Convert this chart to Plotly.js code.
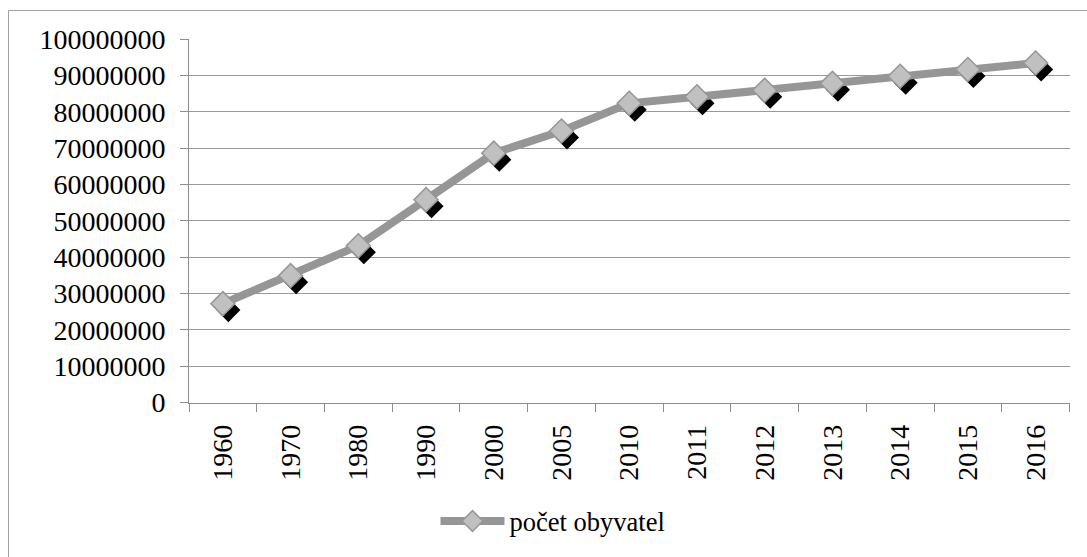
<!DOCTYPE html>
<html>
<head>
<meta charset="utf-8">
<script src="https://cdn.plot.ly/plotly-3.0.1.min.js"></script>
<style>
html,body{margin:0;padding:0;background:#fff;}
#chart{width:1087px;height:557px;}
</style>
</head>
<body>
<div id="chart"></div>
<script>
// Data
var years = ['1960','1970','1980','1990','2000','2005','2010','2011','2012','2013','2014','2015','2016'];
var population = [27200000, 34900000, 43100000, 55800000, 68600000, 74700000, 82300000, 84100000, 85900000, 87800000, 89750000, 91600000, 93400000];
var seriesName = 'počet obyvatel';
var yTicks = [0,10000000,20000000,30000000,40000000,50000000,60000000,70000000,80000000,90000000,100000000];

// Geometry (pixels)
var W = 1087, H = 557;
var L = 189, R = 10, T = 39, B = 147.5;
var pw = W - L - R, ph = H - T - B;
function px(x){ return (x - L) / pw; }
function py(y){ return (H - B - y) / ph; }
var plotRight = 1069.5, plotBottom = 403, plotTop = 39;
var sdx = 5.5, sdy = 6.5; // shadow offset

var font = '"Liberation Serif", "Times New Roman", serif';
var xr = [-0.5, years.length - 0.5];
var yr = [0, 100000000];

var mainXDom = [0, px(plotRight)];
var mainYDom = [py(plotBottom), 1];
var shX = [px(L + sdx), px(plotRight + sdx)];
var shY = [py(plotBottom + sdy), py(plotTop + sdy)];

var traces = [
  { // invisible anchor for main axes
    x: years, y: population, xaxis: 'x', yaxis: 'y', type: 'scatter', mode: 'none',
    showlegend: false, hoverinfo: 'skip'
  },
  { // shadow
    x: years, y: population, xaxis: 'x2', yaxis: 'y2', type: 'scatter', mode: 'markers',
    marker: {symbol: 'diamond', size: 18.5, color: '#000000', line: {width: 0}},
    showlegend: false, hoverinfo: 'skip'
  },
  { // main series
    x: years, y: population, xaxis: 'x3', yaxis: 'y3', type: 'scatter', mode: 'lines+markers',
    name: seriesName,
    line: {color: '#969696', width: 8},
    marker: {symbol: 'diamond', size: 18.5, color: '#c0c0c0', line: {color: '#969696', width: 1.5}},
    showlegend: true
  }
];

var hiddenAxis = {showgrid:false, zeroline:false, showline:false, showticklabels:false, ticks:'', fixedrange:true};

var layout = {
  width: W, height: H,
  margin: {l: L, r: R, t: T, b: B, pad: 0},
  paper_bgcolor: '#ffffff', plot_bgcolor: 'rgba(0,0,0,0)',
  font: {family: font, size: 28, color: '#000000'},
  xaxis: {
    type: 'category', domain: mainXDom, range: xr, anchor: 'y',
    categoryorder: 'array', categoryarray: years,
    showgrid: false, zeroline: false, showline: true, linecolor: '#8c8c8c', linewidth: 1,
    ticks: 'outside', tickson: 'boundaries', ticklen: 8, tickcolor: '#8c8c8c', tickwidth: 1,
    tickangle: -90, ticklabelstandoff: 10,
    tickfont: {family: font, size: 28, color: '#000000'}, fixedrange: true
  },
  yaxis: {
    domain: mainYDom, range: yr, anchor: 'x',
    tickmode: 'array', tickvals: yTicks, ticktext: yTicks.map(String),
    showgrid: true, gridcolor: '#999999', gridwidth: 1,
    zeroline: false, showline: true, linecolor: '#8c8c8c', linewidth: 1,
    ticks: 'outside', ticklen: 8, tickcolor: '#8c8c8c', tickwidth: 1,
    ticklabelstandoff: 9,
    tickfont: {family: font, size: 28, color: '#000000'}, fixedrange: true
  },
  xaxis2: Object.assign({type:'category', domain: shX, range: xr, anchor:'y2', categoryorder:'array', categoryarray: years}, hiddenAxis),
  yaxis2: Object.assign({domain: shY, range: yr, anchor:'x2'}, hiddenAxis),
  xaxis3: Object.assign({type:'category', domain: mainXDom, range: xr, anchor:'y3', categoryorder:'array', categoryarray: years}, hiddenAxis),
  yaxis3: Object.assign({domain: mainYDom, range: yr, anchor:'x3'}, hiddenAxis),
  showlegend: true,
  legend: {
    orientation: 'h', x: px(553), xanchor: 'center', y: py(522), yanchor: 'middle',
    font: {family: font, size: 26.5, color: '#000000'},
    bgcolor: 'rgba(0,0,0,0)', itemwidth: 64
  },
  shapes: [{
    type: 'rect', xref: 'paper', yref: 'paper',
    x0: px(8.5), x1: px(1200), y0: py(700), y1: py(10.5),
    line: {color: '#a0a0a0', width: 1}, fillcolor: 'rgba(0,0,0,0)', layer: 'below'
  }]
};

Plotly.newPlot('chart', traces, layout, {staticPlot: true, displayModeBar: false});
</script>
</body>
</html>
